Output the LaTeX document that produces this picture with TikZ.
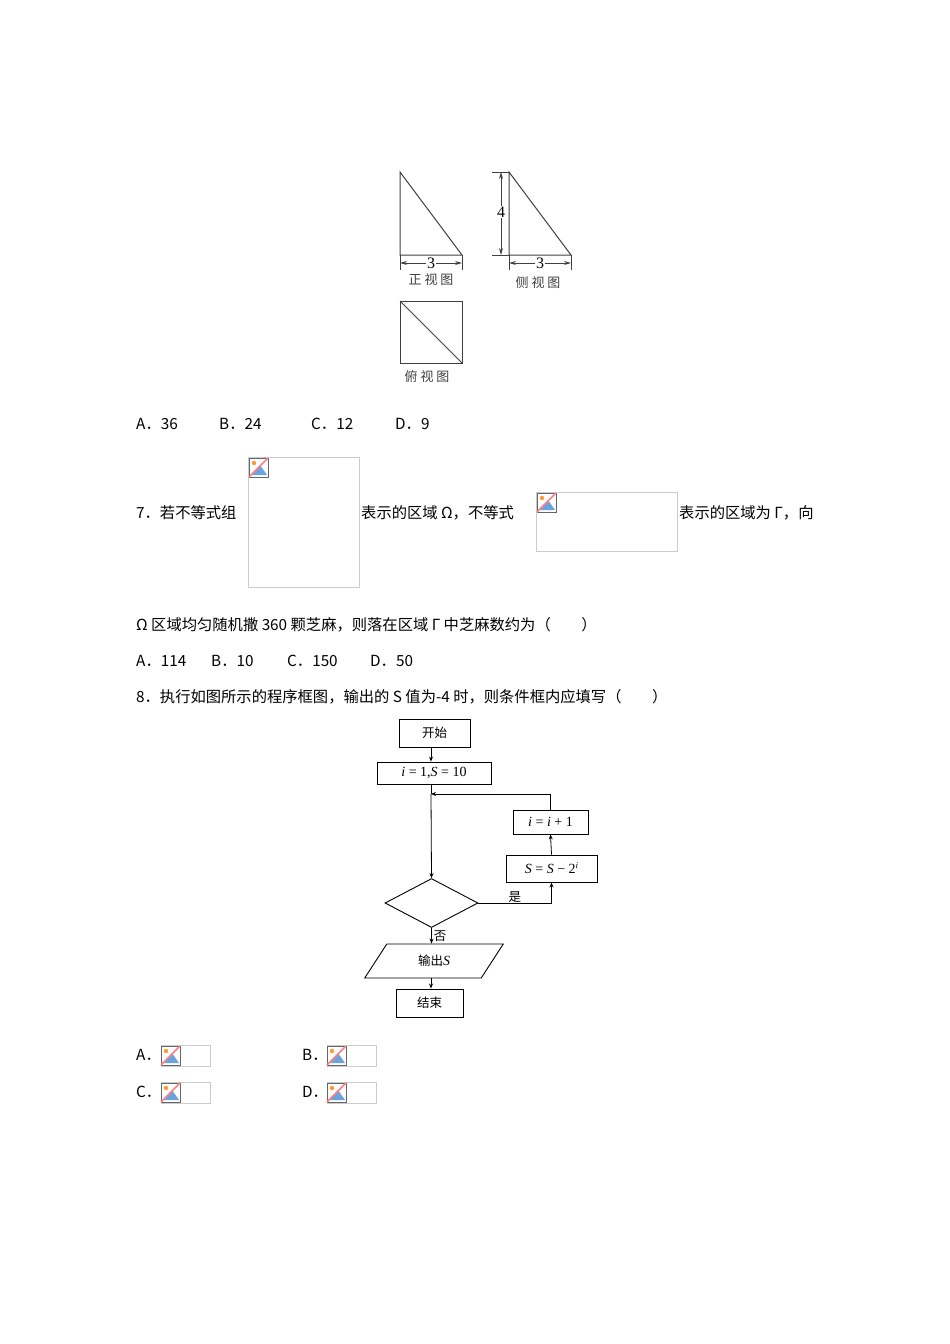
\documentclass[tikz,border=0pt]{standalone}
\usepackage{fontspec}
\newfontfamily\cjk{Noto Sans CJK SC}
\newfontfamily\ser{Liberation Serif}
\newcommand\mi[1]{{\ser\itshape #1}}
\usetikzlibrary{arrows.meta,shapes.geometric}
\newcommand\bimg[2]{%
  \begin{scope}[shift={(#1,#2)}]
    \fill[white] (0,0) rectangle (19,19);
    \fill[cyan!60!blue!60] (3,17) -- (11,7) -- (18,17) -- cycle;
    \fill[orange!80] (5,5) circle (2.2);
    \draw[gray!80!black,line width=0.8] (0,0) rectangle (19,19);
    \draw[red!50,line width=1.5] (0,19) -- (19,0);
  \end{scope}}
\begin{document}
\begin{tikzpicture}[x=1pt,y=-1pt,
  txt/.style={anchor=west,inner sep=0,font=\cjk\fontsize{15.3}{17}\selectfont},
  lab/.style={inner sep=0,font=\cjk\fontsize{13}{15}\selectfont,text=black!75},
  fbox/.style={draw,line width=0.9,inner sep=0,font=\ser\fontsize{14}{16}\selectfont},
  flab/.style={inner sep=0,font=\cjk\fontsize{12.5}{14}\selectfont},
  arr/.style={line width=0.8,-{Stealth[length=5pt,width=4pt]}},
  dim/.style={line width=0.8,{Stealth[length=7pt,width=4pt]}-{Stealth[length=7pt,width=4pt]}},
  imgframe/.style={draw=gray!40,line width=0.8}]
\useasboundingbox (0,0) rectangle (950,1344);
\fill[white] (0,0) rectangle (950,1344);
% ---- three views
\begin{scope}[line width=1,draw=black!75]
\draw (400,172) -- (400,255) -- (462,255) -- cycle;
\draw (400,255) -- (400,270) (462,255) -- (462,270);
\draw[dim] (400,263) -- (462,263);
\node[fill=white,inner sep=1pt,font=\ser\fontsize{16}{16}\selectfont] at (431,263) {3};
\node[lab] at (431,280) {正 视 图};
\draw (509,172) -- (509,255) -- (571,255) -- cycle;
\draw (492,172) -- (509,172) (492,255) -- (509,255);
\draw[dim] (501,172) -- (501,255);
\node[fill=white,inner sep=1pt,font=\ser\fontsize{16}{16}\selectfont] at (501,212) {4};
\draw (509,255) -- (509,270) (571,255) -- (571,270);
\draw[dim] (509,263) -- (571,263);
\node[fill=white,inner sep=1pt,font=\ser\fontsize{16}{16}\selectfont] at (540,263) {3};
\node[lab] at (538,283) {侧 视 图};
\draw (400,301) rectangle (462,363);
\draw (400,301) -- (462,363);
\node[lab] at (427,377) {俯 视 图};
\end{scope}
% ---- text
\node[txt] at (136,424) {A．36};
\node[txt] at (219,424) {B．24};
\node[txt] at (311,424) {C．12};
\node[txt] at (395,424) {D．9};
\node[txt] at (136,513) {7．若不等式组};
\draw[imgframe] (248,457) rectangle (359,587);
\bimg{249}{458}
\node[txt] at (361,513) {表示的区域 Ω，不等式};
\draw[imgframe] (536,492) rectangle (677,551);
\bimg{537}{493}
\node[txt] at (679,513) {表示的区域为 Γ，向};
\node[txt] at (136,625) {Ω 区域均匀随机撒 360 颗芝麻，则落在区域 Γ 中芝麻数约为（　　）};
\node[txt] at (136,661) {A．114};
\node[txt] at (211,661) {B．10};
\node[txt] at (287,661) {C．150};
\node[txt] at (370,661) {D．50};
\node[txt] at (136,697) {8．执行如图所示的程序框图，输出的 S 值为-4 时，则条件框内应填写（　　）};
% ---- flowchart
\node[fbox,minimum width=71,minimum height=28,flab] (start) at (434.5,733) {开始};
\node[fbox,minimum width=114,minimum height=22] (init) at (434,773) {\mi{i} = 1,\mi{S} = 10};
\node[fbox,minimum width=75,minimum height=24] (inc) at (550.5,822) {\mi{i} = \mi{i} + 1};
\node[fbox,minimum width=91,minimum height=27] (sub) at (551.5,868.5) {\mi{S} = \mi{S} − 2\raisebox{0.8ex}{\fontsize{9}{9}\selectfont\mi{i}}};
\node[draw,line width=0.9,diamond,minimum width=93,minimum height=49,inner sep=0] (cond) at (431.5,903) {};
\node[draw,line width=0.9,trapezium,trapezium left angle=57,trapezium right angle=123,minimum width=118,minimum height=34,inner sep=0,flab] (out) at (434,961) {输出\fontsize{14}{15}\selectfont\mi{S}};
\node[fbox,minimum width=67,minimum height=28,flab] (stop) at (429.5,1003) {结束};
\coordinate (j) at (431,794);
\draw[arr] (start.south -| 431,0) -- (init.north -| 431,0);
\draw[arr] (inc.north) |- (j);
\draw[line width=0.8] (init.south -| 431,0) -- (j);
\draw[arr] (j) -- (cond.north);
\draw[arr] (cond.east) -| node[pos=0.25,above,flab] {是} (sub.south);
\draw[arr] (sub.north) -- (inc.south);
\draw[arr] (cond.south) -- node[right,flab,xshift=2] {否} (out.north -| cond.south);
\draw[arr] (out.south -| 431,0) -- (stop.north -| 431,0);
% ---- options
\node[txt] at (136,1055) {A．};
\draw[imgframe] (161,1045) rectangle (210,1066); \bimg{161}{1046}
\node[txt] at (302,1055) {B．};
\draw[imgframe] (327,1045) rectangle (376,1066); \bimg{327}{1046}
\node[txt] at (136,1092) {C．};
\draw[imgframe] (161,1082) rectangle (210,1103); \bimg{161}{1083}
\node[txt] at (302,1092) {D．};
\draw[imgframe] (327,1082) rectangle (376,1103); \bimg{327}{1083}
\end{tikzpicture}
\end{document}
